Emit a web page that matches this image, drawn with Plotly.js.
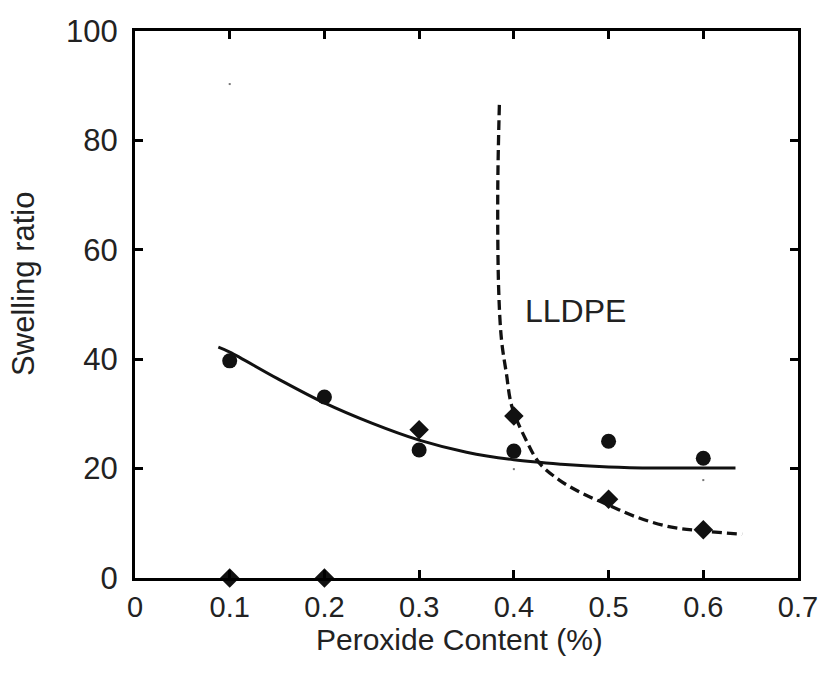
<!DOCTYPE html>
<html>
<head>
<meta charset="utf-8">
<script src="https://cdn.plot.ly/plotly-3.0.1.min.js"></script>
<style>html,body{margin:0;padding:0;background:#fff;}#chart{width:831px;height:675px;}</style>
</head>
<body>
<div id="chart"></div>
<script>
const circleX = [0.1, 0.2, 0.3, 0.4, 0.5, 0.6];
const circleY = [39.7, 33.1, 23.4, 23.2, 25.0, 21.9];
const diamondX = [0.1, 0.2, 0.3, 0.4, 0.5, 0.6];
const diamondY = [0, 0, 27.1, 29.6, 14.4, 8.8];
// Solid fitted curve
const solidX = [0.088, 0.1, 0.15, 0.2, 0.25, 0.3, 0.35, 0.4, 0.45, 0.5, 0.55, 0.6, 0.634];
const solidY = [42.2, 41.3, 36.5, 32.0, 28.3, 25.2, 23.0, 21.6, 20.8, 20.3, 20.1, 20.1, 20.1];
// Dashed LLDPE curve
const dashX = [0.3847, 0.383, 0.384, 0.387, 0.392, 0.398, 0.413, 0.427, 0.448, 0.472, 0.5005, 0.5286, 0.5637, 0.599, 0.641];
const dashY = [86.5, 70.9, 52.6, 43.5, 37.5, 31.3, 25.2, 21.0, 17.9, 15.5, 13.3, 11.2, 9.4, 8.6, 8.0];
// Small stray specks in the original
const speckX = [0.1, 0.4, 0.6];
const speckY = [90.3, 19.9, 17.9];
const xTicks = [0, 0.1, 0.2, 0.3, 0.4, 0.5, 0.6, 0.7];
const xTickText = ['0', '0.1', '0.2', '0.3', '0.4', '0.5', '0.6', '0.7'];
const yTicks = [0, 20, 40, 60, 80, 100];
const xTitle = 'Peroxide Content (%)';
const yTitle = 'Swelling ratio';
const labelText = 'LLDPE';
const labelX = 0.465, labelY = 48.8;

const ink = '#111';
const traces = [
  {x: solidX, y: solidY, mode: 'lines', line: {color: ink, width: 3, shape: 'spline'}, hoverinfo: 'skip'},
  {x: dashX, y: dashY, mode: 'lines', line: {color: ink, width: 3.3, dash: '10px,5px', shape: 'spline'}, hoverinfo: 'skip'},
  {x: circleX, y: circleY, mode: 'markers', marker: {symbol: 'circle', size: 15, color: ink}, cliponaxis: false},
  {x: diamondX, y: diamondY, mode: 'markers', marker: {symbol: 'diamond', size: 15, color: ink}, cliponaxis: false},
  {x: speckX, y: speckY, mode: 'markers', marker: {symbol: 'square', size: 2, color: '#777'}}
];

const fam = 'Liberation Sans, Arial, sans-serif';
const font = {family: fam, size: 31, color: '#222'};
const xfont = {family: fam, size: 29, color: '#222'};
const layout = {
  width: 831, height: 675,
  margin: {l: 135, r: 33, t: 31, b: 97},
  paper_bgcolor: '#fff', plot_bgcolor: '#fff',
  showlegend: false,
  font: font,
  xaxis: {
    range: [0, 0.7], tickvals: xTicks, ticktext: xTickText,
    showgrid: false, zeroline: false,
    showline: true, linecolor: '#000', linewidth: 3, mirror: 'ticks',
    ticks: 'inside', ticklen: 8, tickwidth: 3, tickcolor: '#000',
    tickfont: xfont, ticklabelstandoff: 1
  },
  yaxis: {
    range: [0, 100], tickvals: yTicks,
    showgrid: false, zeroline: false,
    showline: true, linecolor: '#000', linewidth: 3, mirror: 'ticks',
    ticks: 'inside', ticklen: 8, tickwidth: 3, tickcolor: '#000',
    tickfont: font, ticklabelstandoff: 8
  },
  annotations: [
    {x: labelX, y: labelY, xref: 'x', yref: 'y', text: labelText, showarrow: false,
     font: {family: fam, size: 32, color: '#222'}},
    {x: 0.489, y: -0.112, xref: 'paper', yref: 'paper', text: xTitle, showarrow: false,
     borderpad: 0, xanchor: 'center', yanchor: 'middle', font: {family: fam, size: 30, color: '#222'}},
    {x: -0.168, y: 0.537, xref: 'paper', yref: 'paper', text: yTitle, showarrow: false,
     borderpad: 0, textangle: -90, xanchor: 'center', yanchor: 'middle', font: {family: fam, size: 31, color: '#222'}}
  ]
};
Plotly.newPlot('chart', traces, layout, {staticPlot: true, displayModeBar: false});
</script>
</body>
</html>
